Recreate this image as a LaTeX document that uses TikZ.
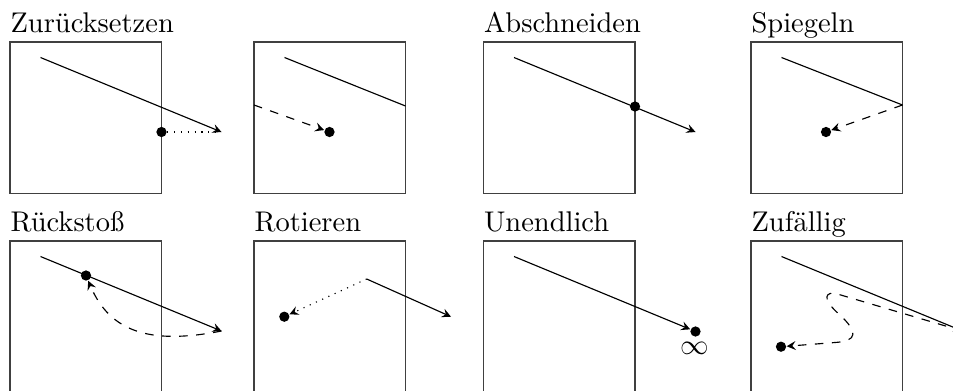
\documentclass[tikz,border=0pt]{standalone}
\usetikzlibrary{arrows}
\begin{document}
\begin{tikzpicture}[x=0.351pt,y=-0.351pt,>=stealth,
  blob/.style={circle,fill=black,inner sep=0pt,minimum size=3.6pt},
  title/.style={anchor=base west,inner sep=0pt},
  frame/.style={draw=black!75,line width=0.4pt},
  move/.style={->,line width=0.4pt},
  jump/.style={->,dashed},
  hop/.style={dotted}]
\useasboundingbox (0,0) rectangle (953,390);
\clip (0,0) rectangle (953,390);

% ---- titles
\node[title] (t1) at (10,32) {Zurücksetzen};
\node[title] (t3) at (483.5,32) {Abschneiden};
\node[title] (t4) at (751,32) {Spiegeln};
\node[title] (t5) at (10,231) {Rückstoß};
\node[title] (t6) at (254,231) {Rotieren};
\node[title] (t7) at (483.5,231) {Unendlich};
\node[title] (t8) at (751,231) {Zufällig};

% ---- frames
\foreach \x/\y in {10/42,254/42,483.5/42,751/42,10/241,254/241,483.5/241,751/241}
  \draw[frame] (\x,\y) rectangle ++(151.5,151.5);

% ---- Zuruecksetzen
\coordinate (s1) at (40.5,57.5);
\coordinate (e1) at (221.5,132);
\node[blob] (d1) at (161.5,132) {};
\draw[move] (s1) -- (e1);
\draw[hop] (d1) -- (e1);

% ---- second (wrap)
\coordinate (s2) at (284.5,57.5);
\coordinate (r2) at (405.5,106);
\coordinate (l2) at (254,105);
\node[blob] (d2) at (329.5,132) {};
\draw (s2) -- (r2);
\draw[jump] (l2) -- (d2);

% ---- Abschneiden
\coordinate (s3) at (514,57.5);
\coordinate (e3) at (695.5,132);
\node[blob] (d3) at (635,106.5) {};
\draw[move] (s3) -- (e3);

% ---- Spiegeln
\coordinate (s4) at (781.5,57.5);
\coordinate (r4) at (902.5,105);
\node[blob] (d4) at (826,132) {};
\draw (s4) -- (r4);
\draw[jump] (r4) -- (d4);

% ---- Rueckstoss
\coordinate (s5) at (40.5,256.5);
\coordinate (e5) at (221.5,331);
\node[blob] (d5) at (86,275.5) {};
\draw[move] (s5) -- (e5);
\draw[jump] (e5) .. controls (150,345) and (110,332) .. (d5);

% ---- Rotieren
\coordinate (s6) at (366.7,279);
\coordinate (e6) at (451,316.7);
\node[blob] (d6) at (284.3,316.7) {};
\draw[move] (s6) -- (e6);
\draw[->,hop] (s6) -- (d6);

% ---- Unendlich
\coordinate (s7) at (514,256.5);
\node[blob] (d7) at (695.5,331.5) {};
\node (inf) at (695,348.5) {$\infty$};
\draw[move] (s7) -- (d7);

% ---- Zufaellig
\coordinate (s8) at (781.5,256.5);
\coordinate (e8) at (962.5,331);
\coordinate (k8) at (834,293);
\node[blob] (d8) at (781,346.7) {};
\draw[move] (s8) -- (e8);
\draw[jump] (e8) -- (k8) .. controls (822,293) and (826,303) .. (840,315)
  .. controls (858,332) and (858,341) .. (835,342.5) -- (d8);
\end{tikzpicture}
\end{document}
